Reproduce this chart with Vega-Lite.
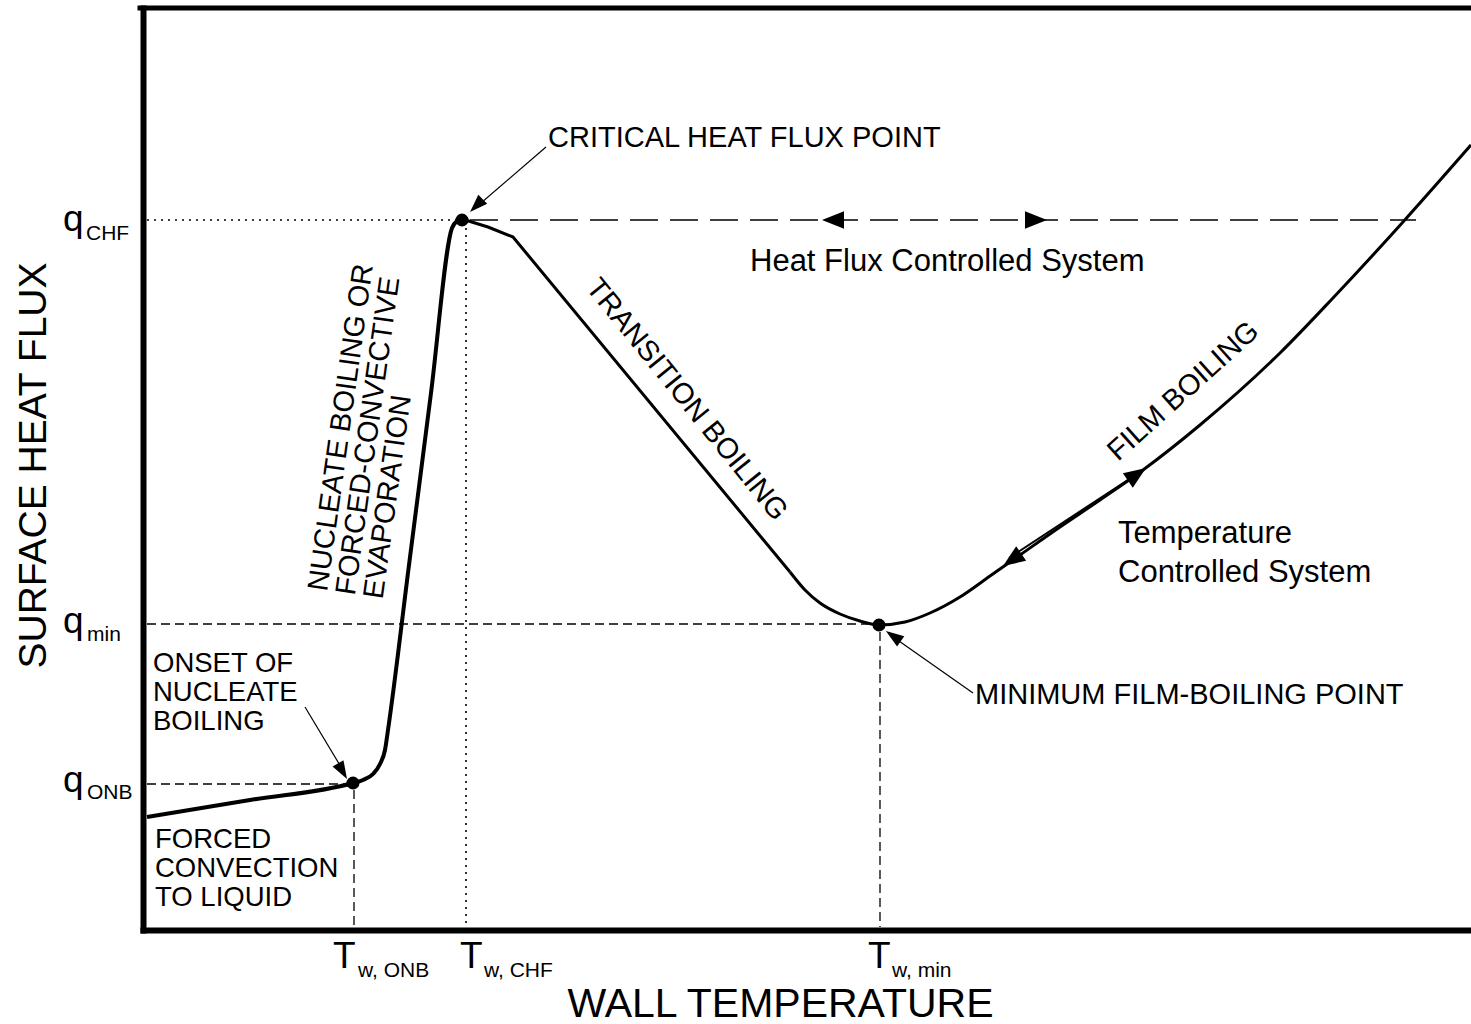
{
  "$schema": "https://vega.github.io/schema/vega-lite/v6.json",
  "width": 1328,
  "height": 922,
  "autosize": {"type": "none"},
  "padding": {"left": 143, "top": 8, "right": 0, "bottom": 94},
  "background": "white",
  "config": {"view": {"stroke": null}, "font": "Liberation Sans"},
  "datasets": {
    "frame": [{"x": -3, "x2": 1328, "y": 922, "y2": 922}],
    "rules": [
      {"x": 4, "x2": 210, "y": 146, "y2": 146, "kind": "dash"},
      {"x": 211, "x2": 211, "y": 140, "y2": 3, "kind": "dash"},
      {"x": 4, "x2": 735, "y": 306, "y2": 306, "kind": "dash"},
      {"x": 737, "x2": 737, "y": 298, "y2": 3, "kind": "dash"},
      {"x": 4, "x2": 315, "y": 710, "y2": 710, "kind": "dot"},
      {"x": 323, "x2": 323, "y": 702, "y2": 3, "kind": "dot"},
      {"x": 327, "x2": 1273, "y": 710, "y2": 710, "kind": "long"},
      {"x": 162, "x2": 201, "y": 223, "y2": 158, "kind": "leader"},
      {"x": 403, "x2": 331, "y": 783, "y2": 721, "kind": "leader"},
      {"x": 830, "x2": 746, "y": 237, "y2": 296, "kind": "leader"},
      {"x": 866, "x2": 997, "y": 372, "y2": 458, "kind": "arrow"}
    ],
    "curve": [
      {"x": 4, "y": 113, "part": "a"},
      {"x": 107, "y": 130, "part": "a"},
      {"x": 210, "y": 147, "part": "a"},
      {"x": 220, "y": 150, "part": "a"},
      {"x": 230, "y": 156, "part": "a"},
      {"x": 237, "y": 166, "part": "a"},
      {"x": 242, "y": 180, "part": "a"},
      {"x": 245, "y": 200, "part": "a"},
      {"x": 266, "y": 365, "part": "a"},
      {"x": 288, "y": 537, "part": "a"},
      {"x": 309, "y": 702, "part": "a"},
      {"x": 314, "y": 709, "part": "a"},
      {"x": 319, "y": 711, "part": "a"},
      {"x": 319, "y": 711, "part": "c"},
      {"x": 345, "y": 703, "part": "c"},
      {"x": 370, "y": 693, "part": "c"},
      {"x": 647, "y": 358, "part": "c"},
      {"x": 647, "y": 358, "part": "b"},
      {"x": 662, "y": 340, "part": "b"},
      {"x": 677, "y": 327, "part": "b"},
      {"x": 697, "y": 316, "part": "b"},
      {"x": 717, "y": 309, "part": "b"},
      {"x": 736, "y": 305, "part": "b"},
      {"x": 762, "y": 308, "part": "b"},
      {"x": 787, "y": 317, "part": "b"},
      {"x": 817, "y": 333, "part": "b"},
      {"x": 847, "y": 354, "part": "b"},
      {"x": 877, "y": 375, "part": "b"},
      {"x": 917, "y": 403, "part": "b"},
      {"x": 957, "y": 430, "part": "b"},
      {"x": 1000, "y": 460, "part": "b"},
      {"x": 1057, "y": 505, "part": "b"},
      {"x": 1137, "y": 577, "part": "b"},
      {"x": 1190, "y": 632, "part": "b"},
      {"x": 1260, "y": 708, "part": "b"},
      {"x": 1328, "y": 785, "part": "b"}
    ],
    "dots": [
      {"x": 210, "y": 147},
      {"x": 319, "y": 710},
      {"x": 736, "y": 305}
    ],
    "heads": [
      {"x": 199.5, "y": 158.8, "dir": 150, "kind": "small"},
      {"x": 333.4, "y": 724.4, "dir": 225, "kind": "small"},
      {"x": 750.3, "y": 293.8, "dir": 305, "kind": "small"},
      {"x": 690, "y": 710, "dir": 270, "kind": "big"},
      {"x": 893, "y": 710, "dir": 90, "kind": "big"},
      {"x": 993.9, "y": 455.8, "dir": 55.6, "kind": "big"},
      {"x": 869.1, "y": 370.2, "dir": 235.6, "kind": "big"}
    ],
    "cad": [
      {"x": 405, "y": 783, "label": "CRITICAL HEAT FLUX POINT", "ang": 0, "grp": "main"},
      {"x": 832, "y": 226, "label": "MINIMUM FILM-BOILING POINT", "ang": 0, "grp": "main"},
      {"x": 184, "y": 338, "label": "NUCLEATE BOILING OR\nFORCED-CONVECTIVE\nEVAPORATION", "ang": -82, "grp": "main"},
      {"x": 442, "y": 642, "label": "TRANSITION BOILING", "ang": 51, "grp": "main"},
      {"x": 975, "y": 468, "label": "FILM BOILING", "ang": -42, "grp": "main"},
      {"x": 10, "y": 258, "label": "ONSET OF\nNUCLEATE\nBOILING", "ang": 0, "grp": "left"},
      {"x": 12, "y": 82, "label": "FORCED\nCONVECTION\nTO LIQUID", "ang": 0, "grp": "left"}
    ],
    "notes": [
      {"x": 607, "y": 659, "label": "Heat Flux Controlled System"},
      {"x": 975, "y": 387, "label": "Temperature\nControlled System"}
    ],
    "big": [
      {"x": -80, "y": 699, "label": "q"},
      {"x": -80, "y": 297, "label": "q"},
      {"x": -80, "y": 138, "label": "q"},
      {"x": 190, "y": -38, "label": "T"},
      {"x": 317, "y": -38, "label": "T"},
      {"x": 725, "y": -38, "label": "T"}
    ],
    "sub": [
      {"x": -57, "y": 690, "label": "CHF"},
      {"x": -56, "y": 289, "label": "min"},
      {"x": -56, "y": 131, "label": "ONB"},
      {"x": 215, "y": -47, "label": "w, ONB"},
      {"x": 341, "y": -47, "label": "w, CHF"},
      {"x": 749, "y": -47, "label": "w, min"}
    ]
  },
  "encoding": {
    "x": {
      "field": "x", "type": "quantitative",
      "scale": {"domain": [0, 1328], "nice": false, "zero": false},
      "axis": {
        "title": "WALL TEMPERATURE", "grid": false, "ticks": false, "labels": false,
        "domain": true, "domainColor": "black", "domainWidth": 6, "domainCap": "square",
        "titleFont": "Liberation Sans", "titleFontSize": 41, "titleFontWeight": "normal", "titleColor": "black",
        "titleX": 637, "titleY": 86, "titleAlign": "center", "titleBaseline": "alphabetic"
      }
    },
    "y": {
      "field": "y", "type": "quantitative",
      "scale": {"domain": [0, 922], "nice": false, "zero": false},
      "axis": {
        "title": "SURFACE HEAT FLUX", "grid": false, "ticks": false, "labels": false,
        "domain": true, "domainColor": "black", "domainWidth": 6, "domainCap": "square",
        "titleFont": "Liberation Sans", "titleFontSize": 39, "titleFontWeight": "normal", "titleColor": "black",
        "titleAngle": 270, "titleX": -98, "titleY": 457, "titleAlign": "center", "titleBaseline": "alphabetic"
      }
    }
  },
  "layer": [
    {
      "data": {"name": "frame"},
      "mark": {"type": "rule", "color": "black", "strokeWidth": 5, "strokeCap": "square"},
      "encoding": {"x2": {"field": "x2"}, "y2": {"field": "y2"}}
    },
    {
      "data": {"name": "rules"},
      "transform": [{"filter": "datum.kind === 'dash'"}],
      "mark": {"type": "rule", "color": "black", "strokeWidth": 1.3, "strokeDash": [9, 5]},
      "encoding": {"x2": {"field": "x2"}, "y2": {"field": "y2"}}
    },
    {
      "data": {"name": "rules"},
      "transform": [{"filter": "datum.kind === 'dot'"}],
      "mark": {"type": "rule", "color": "black", "strokeWidth": 1.6, "strokeDash": [2, 5]},
      "encoding": {"x2": {"field": "x2"}, "y2": {"field": "y2"}}
    },
    {
      "data": {"name": "rules"},
      "transform": [{"filter": "datum.kind === 'long'"}],
      "mark": {"type": "rule", "color": "black", "strokeWidth": 1.5, "strokeDash": [28, 12]},
      "encoding": {"x2": {"field": "x2"}, "y2": {"field": "y2"}}
    },
    {
      "data": {"name": "rules"},
      "transform": [{"filter": "datum.kind === 'leader'"}],
      "mark": {"type": "rule", "color": "black", "strokeWidth": 1.2},
      "encoding": {"x2": {"field": "x2"}, "y2": {"field": "y2"}}
    },
    {
      "data": {"name": "rules"},
      "transform": [{"filter": "datum.kind === 'arrow'"}],
      "mark": {"type": "rule", "color": "black", "strokeWidth": 2},
      "encoding": {"x2": {"field": "x2"}, "y2": {"field": "y2"}}
    },
    {
      "data": {"name": "curve"},
      "transform": [{"filter": "datum.part === 'a'"}],
      "mark": {"type": "line", "color": "black", "strokeWidth": 4, "interpolate": "monotone"},
      "encoding": {}
    },
    {
      "data": {"name": "curve"},
      "transform": [{"filter": "datum.part === 'c'"}],
      "mark": {"type": "line", "color": "black", "strokeWidth": 3, "interpolate": "linear", "strokeJoin": "round"},
      "encoding": {}
    },
    {
      "data": {"name": "curve"},
      "transform": [{"filter": "datum.part === 'b'"}],
      "mark": {"type": "line", "color": "black", "strokeWidth": 3, "interpolate": "monotone"},
      "encoding": {}
    },
    {
      "data": {"name": "dots"},
      "mark": {"type": "point", "shape": "circle", "filled": true, "size": 170, "color": "black", "opacity": 1}
    },
    {
      "data": {"name": "heads"},
      "transform": [{"filter": "datum.kind === 'small'"}],
      "mark": {"type": "point", "shape": "M0,-1L0.7,1L-0.7,1Z", "filled": true, "size": 324, "color": "black", "opacity": 1},
      "encoding": {"angle": {"field": "dir", "type": "quantitative", "scale": null}}
    },
    {
      "data": {"name": "heads"},
      "transform": [{"filter": "datum.kind === 'big'"}],
      "mark": {"type": "point", "shape": "M0,-1L0.8,1L-0.8,1Z", "filled": true, "size": 484, "color": "black", "opacity": 1},
      "encoding": {"angle": {"field": "dir", "type": "quantitative", "scale": null}}
    },
    {
      "data": {"name": "cad"},
      "transform": [{"filter": "datum.grp === 'main'"}],
      "mark": {"type": "text", "font": "Liberation Sans", "fontSize": 29, "align": "left", "baseline": "alphabetic", "lineBreak": "\n", "lineHeight": 28, "color": "black"},
      "encoding": {"text": {"field": "label", "type": "nominal"}, "angle": {"field": "ang", "type": "quantitative", "scale": null}}
    },
    {
      "data": {"name": "cad"},
      "transform": [{"filter": "datum.grp === 'left'"}],
      "mark": {"type": "text", "font": "Liberation Sans", "fontSize": 27.5, "align": "left", "baseline": "alphabetic", "lineBreak": "\n", "lineHeight": 29, "color": "black"},
      "encoding": {"text": {"field": "label", "type": "nominal"}}
    },
    {
      "data": {"name": "notes"},
      "mark": {"type": "text", "font": "Liberation Sans", "fontSize": 31, "align": "left", "baseline": "alphabetic", "lineBreak": "\n", "lineHeight": 39, "color": "black"},
      "encoding": {"text": {"field": "label", "type": "nominal"}}
    },
    {
      "data": {"name": "big"},
      "mark": {"type": "text", "font": "Liberation Sans", "fontSize": 37, "align": "left", "baseline": "alphabetic", "color": "black"},
      "encoding": {"text": {"field": "label", "type": "nominal"}}
    },
    {
      "data": {"name": "sub"},
      "mark": {"type": "text", "font": "Liberation Sans", "fontSize": 21, "align": "left", "baseline": "alphabetic", "color": "black"},
      "encoding": {"text": {"field": "label", "type": "nominal"}}
    }
  ]
}
